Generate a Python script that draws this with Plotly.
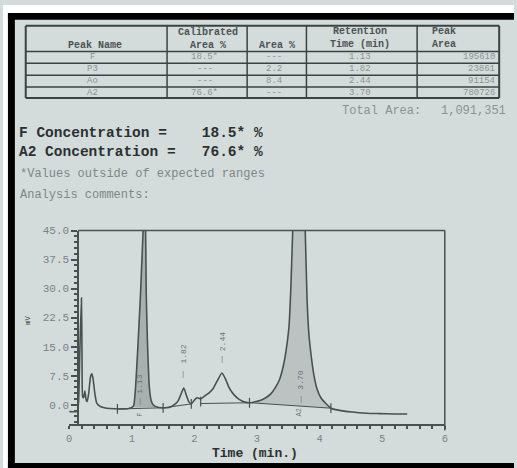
import plotly.graph_objects as go

# ---------------- data ----------------
peak_names = ["F", "P3", "Ao", "A2"]
calibrated_area = ["18.5*", "---", "---", "76.6*"]
area_pct = ["---", "2.2", "8.4", "---"]
retention_time = ["1.13", "1.82", "2.44", "3.70"]
peak_area = ["195610", "23861", "91154", "780726"]
total_area = "1,091,351"
f_conc = "18.5* %"
a2_conc = "76.6* %"

# chromatogram (min, mV)
time_min = [0.00, 0.10, 0.13, 0.15, 0.17, 0.195, 0.205, 0.215, 0.23, 0.25, 0.27, 0.285,
            0.31, 0.34, 0.36, 0.38, 0.41, 0.44, 0.49, 0.56, 0.65, 0.80, 0.95,
            1.00, 1.03, 1.06, 1.10, 1.14, 1.18, 1.20, 1.22, 1.23, 1.25, 1.28, 1.31, 1.34, 1.40,
            1.47, 1.55, 1.62, 1.68, 1.74, 1.78, 1.83, 1.87, 1.91, 1.95, 1.99, 2.04, 2.10,
            2.16, 2.23, 2.30, 2.36, 2.44, 2.50, 2.56, 2.63, 2.72, 2.82, 2.90, 2.98,
            3.05, 3.14, 3.22, 3.30, 3.36, 3.42, 3.46, 3.51, 3.54, 3.57, 3.62, 3.67, 3.72,
            3.77, 3.80, 3.83, 3.87, 3.91, 3.96, 4.02, 4.10, 4.18, 4.30, 4.52, 4.75, 4.95,
            5.20, 5.40]
signal_mv = [-1.8, -1.8, -1.6, 1.0, 14.0, 27.6, 12.0, 2.0, 1.8, 3.5, 1.2, 0.8,
             2.8, 7.2, 8.0, 6.8, 2.8, 0.4, -0.4, -0.8, -1.0, -1.1, -1.0,
             -0.7, -0.2, 4.5, 16.0, 29.0, 45.0, 52.0, 45.0, 29.0, 16.0, 4.5, 1.0, 0.0, -0.6,
             -0.8, -0.8, -0.6, 0.0, 1.0, 2.5, 4.3, 2.5, 0.8, 0.2, 1.0, 1.8, 1.5,
             2.2, 3.0, 4.2, 6.0, 8.2, 6.5, 4.2, 2.6, 1.3, 0.6, 0.5, 0.8,
             1.1, 1.8, 2.8, 4.6, 6.5, 10.0, 13.5, 20.0, 30.0, 45.0, 70.0, 90.0, 70.0,
             45.0, 27.0, 18.0, 12.0, 7.5, 4.0, 1.8, 0.3, -0.9, -1.4, -1.9, -2.2, -2.3,
             -2.4, -2.4]

integration_windows = [(1.00, 1.40), (2.90, 4.18)]
baseline_t = [0.77, 1.50, None, 1.50, 1.95, None, 2.10, 2.88, None, 2.90, 4.18]
baseline_y = [-1.1, -0.8, None, -0.8, 0.2, None, 0.3, 0.5, None, 0.5, -0.9]
marker_t = [0.77, 1.50, 1.95, 2.10, 2.88, 4.18]
marker_y = [-1.1, -0.8, 0.2, 0.8, 0.5, -0.9]
peak_rt = [1.13, 1.82, 2.44, 3.70]

y_ticks = [0.0, 7.5, 15.0, 22.5, 30.0, 37.5, 45.0]
x_ticks = [0, 1, 2, 3, 4, 5, 6]

# ---------------- helpers ----------------
W, H = 517, 468
def px(x): return x / W
def py(y): return 1 - y / H

MONO = "Liberation Mono, Courier New, monospace"
PAPER = "#d4dbdb"
LINE = "#4a5050"
FILLS = ["#a9b0b0", "#bcc2c2"]

fig = go.Figure()

# shaded integrated peaks
for (a, b), fc in zip(integration_windows, FILLS):
    xs = [t for t in time_min if a <= t <= b]
    ys = [v for t, v in zip(time_min, signal_mv) if a <= t <= b]
    fig.add_trace(go.Scatter(x=xs, y=ys, fill="toself", fillcolor=fc, mode="lines",
                             line=dict(width=0, shape="spline", smoothing=0.5),
                             hoverinfo="skip", showlegend=False))

# baselines
fig.add_trace(go.Scatter(x=baseline_t, y=baseline_y, mode="lines",
                         line=dict(color=LINE, width=1), showlegend=False, hoverinfo="skip"))
fig.add_trace(go.Scatter(x=marker_t, y=marker_y, mode="markers",
                         marker=dict(symbol="line-ns", size=7, line=dict(color=LINE, width=1.2)),
                         showlegend=False, hoverinfo="skip"))

# chromatogram
fig.add_trace(go.Scatter(x=time_min, y=signal_mv, mode="lines",
                         line=dict(color=LINE, width=1.6, shape="spline", smoothing=0.5),
                         showlegend=False))

# retention labels (rotated)
label_y = [5.4, 13.0, 16.4, 6.4]
tick_y = [1.0, 8.0, 11.8, 1.5]
ann = []
LBL = "#6b7373"
for rt, ly, ty in zip(peak_rt, label_y, tick_y):
    ann.append(dict(x=rt, y=ly, xref="x", yref="y", text=f"{rt:.2f}", textangle=-90,
                    showarrow=False, font=dict(family=MONO, size=8, color=LBL)))
    ann.append(dict(x=rt, y=ty, xref="x", yref="y", text="|", showarrow=False,
                    font=dict(family=MONO, size=7, color=LBL)))
ann.append(dict(x=peak_rt[0], y=-2.6, xref="x", yref="y", text="F", textangle=-90,
                showarrow=False, font=dict(family=MONO, size=7, color=LBL)))
ann.append(dict(x=peak_rt[3] - 0.03, y=-2.0, xref="x", yref="y", text="A2", textangle=-90,
                showarrow=False, font=dict(family=MONO, size=7, color=LBL)))

# ---------------- page texts ----------------
def T(x, y, text, size, color, bold=False, xanchor="center", align="center"):
    if bold:
        text = "<br>".join(f"<b>{s}</b>" for s in text.split("<br>"))
    ann.append(dict(x=px(x), y=py(y), xref="paper", yref="paper", text=text, showarrow=False,
                    xanchor=xanchor, yanchor="middle", align=align, borderpad=0,
                    font=dict(family=MONO, size=size, color=color)))

HDR = "#4a5252"
VAL = "#8a9393"
T(93, 40.5, "Peak Name", 10, HDR, True)
T(207, 34, "Calibrated<br>Area %", 10, HDR, True)
T(277, 40.5, "Area %", 10, HDR, True)
T(361, 33, "Retention<br>Time (min)", 10, HDR, True)
T(446, 33, "Peak<br>Area", 10, HDR, True)

row_y = [53, 65, 77, 88.5]
for i, yy in enumerate(row_y):
    T(91, yy, peak_names[i], 9, VAL)
    T(204, yy, calibrated_area[i], 9, VAL)
    T(274, yy, area_pct[i], 9, VAL)
    T(361, yy, retention_time[i], 9, VAL)
    T(499, yy, peak_area[i], 9, VAL, xanchor="right")

T(342, 107, "Total Area:", 12, VAL, xanchor="left")
T(510, 107, total_area, 12, VAL, xanchor="right")

DARK = "#2b3131"
T(15, 139, "F Concentration =    " + f_conc + "<br>A2 Concentration =   " + a2_conc,
  14.5, DARK, True, xanchor="left", align="left")
T(16, 171, "*Values outside of expected ranges", 12, "#7e8787", xanchor="left")
T(16, 192, "Analysis comments:", 12, "#7e8787", xanchor="left")
T(255, 453, "Time (min.)", 13, DARK, True)
ann.append(dict(x=px(19), y=py(325), xref="paper", yref="paper", text="mV", textangle=-90,
                showarrow=False, font=dict(family=MONO, size=7, color="#3a4040")))

# ---------------- shapes ----------------
shapes = []
def L(x0, y0, x1, y1, w=1.5, c="#3b4242"):
    shapes.append(dict(type="line", xref="paper", yref="paper", x0=px(x0), y0=py(y0),
                       x1=px(x1), y1=py(y1), line=dict(color=c, width=w)))

# table grid
L(23, 21, 502, 21, 2); L(23, 94, 502, 94, 2)
L(23, 21, 23, 94, 2); L(502, 21, 502, 94, 2)
for yy in [47, 59, 71, 83]:
    L(23, yy, 502, yy, 1.5)
for xx in [166, 247, 307, 419]:
    L(xx, 21, xx, 94, 1.5)

# plot frame (top and right)
L(76, 228, 447, 228, 1.5, LINE)
L(447, 228, 447, 430, 1.5, LINE)

# photo borders
def R(x0, y0, x1, y1, c):
    shapes.append(dict(type="rect", xref="paper", yref="paper", x0=px(x0), y0=py(y0),
                       x1=px(x1), y1=py(y1), fillcolor=c, line=dict(width=0), layer="above"))
R(0, 0, 517, 8, "#ffffff")
R(0, 0, 5, 468, "#ffffff")
R(5, 8, 517, 15, "#000000")
R(5, 8, 12, 468, "#000000")
R(5, 463, 517, 468, "#000000")

fig.update_layout(
    width=W, height=H,
    margin=dict(l=0, r=0, t=0, b=0),
    paper_bgcolor=PAPER, plot_bgcolor="rgba(0,0,0,0)",
    annotations=ann, shapes=shapes, showlegend=False,
    xaxis=dict(domain=[px(67), px(447)], range=[0, 6], anchor="y",
               tickvals=x_ticks, ticks="outside", ticklen=3, tickwidth=1.5,
               tickcolor=LINE, showline=True, linecolor=LINE, linewidth=1.5,
               showgrid=False, zeroline=False,
               tickfont=dict(family=MONO, size=10.5, color="#7a8383"),
               minor=dict(dtick=0.2, ticks="outside", ticklen=3, tickcolor=LINE)),
    yaxis=dict(domain=[py(424), py(228)], range=[-5.11, 45], anchor="free",
               position=px(76), tickvals=y_ticks, tickformat=".1f",
               ticks="outside", ticklen=6, tickwidth=1.5, tickcolor=LINE,
               showline=True, linecolor=LINE, linewidth=1.5,
               showgrid=False, zeroline=False,
               tickfont=dict(family=MONO, size=11, color="#7a8383"),
               minor=dict(dtick=1.5, ticks="outside", ticklen=3, tickcolor=LINE)),
)

fig.write_html("out.html", config={"displayModeBar": False},
               post_script="document.body.style.margin='0';document.body.style.overflow='hidden';")
